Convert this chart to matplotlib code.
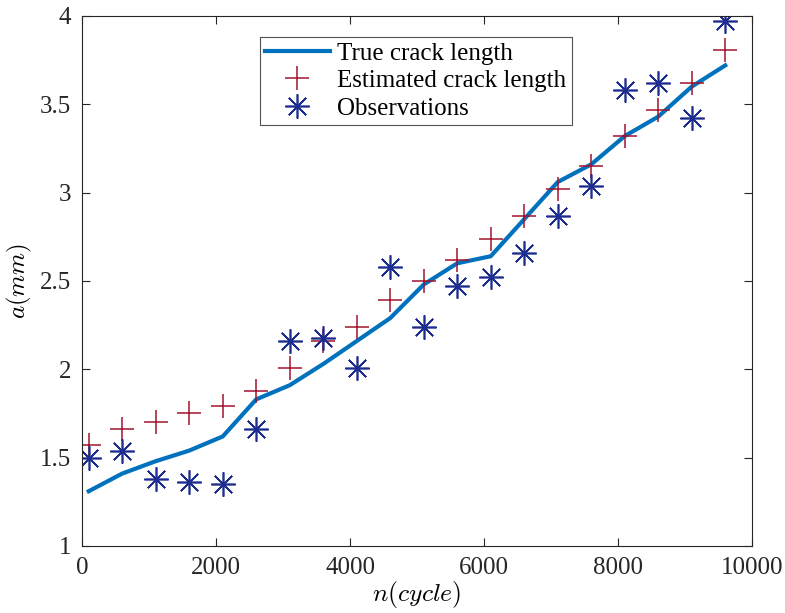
import matplotlib
matplotlib.use("Agg")
import matplotlib.pyplot as plt

plt.rcParams['font.family'] = ['Liberation Serif', 'DejaVu Serif']
plt.rcParams['mathtext.fontset'] = 'cm'

cycles = [100, 600, 1100, 1600, 2100, 2600, 3100, 3600, 4100, 4600,
          5100, 5600, 6100, 6600, 7100, 7600, 8100, 8600, 9100, 9600]
true_len = [1.31, 1.41, 1.48, 1.54, 1.62, 1.83, 1.91, 2.03, 2.16, 2.29,
            2.48, 2.60, 2.64, 2.85, 3.06, 3.16, 3.32, 3.43, 3.60, 3.72]
est_len = [1.57, 1.66, 1.70, 1.75, 1.79, 1.88, 2.01, 2.16, 2.24, 2.39,
           2.50, 2.62, 2.74, 2.87, 3.02, 3.15, 3.32, 3.47, 3.62, 3.81]
obs_len = [1.50, 1.54, 1.38, 1.36, 1.35, 1.66, 2.16, 2.18, 2.01, 2.58,
           2.24, 2.47, 2.52, 2.66, 2.87, 3.04, 3.58, 3.62, 3.42, 3.97]
x_ticks = [0, 2000, 4000, 6000, 8000, 10000]
y_ticks = [1, 1.5, 2, 2.5, 3, 3.5, 4]
y_tick_labels = ['1', '1.5', '2', '2.5', '3', '3.5', '4']

fig = plt.figure(figsize=(7.85, 6.13), dpi=100)
ax = fig.add_axes([0.1045, 0.1093, 0.8535, 0.8647])

ax.plot(cycles, true_len, color='#0072BD', lw=3, label='True crack length')
ax.plot(cycles, est_len, ls='none', marker='+', ms=17.5, mew=1.1,
        color='#A2142F', label='Estimated crack length')
ax.plot(cycles, obs_len, ls='none', marker=(8, 2, 0), ms=17.5, mew=1.2,
        color='#1C2D8F', label='Observations')

ax.set_xlim(0, 10000)
ax.set_ylim(1, 4)
ax.set_xticks(x_ticks)
ax.set_yticks(y_ticks)
ax.set_yticklabels(y_tick_labels)
ax.tick_params(direction='in', top=True, right=True, labelsize=18,
               length=6, width=0.8, colors='#262626')
ax.tick_params(axis='x', pad=8)
ax.tick_params(axis='y', pad=8)
for s in ax.spines.values():
    s.set_linewidth(0.8)
    s.set_color('#262626')

ax.set_xlabel(r'$n(cycle)$', fontsize=18.5, labelpad=0)
ax.set_ylabel(r'$a(mm)$', fontsize=18, labelpad=4)

leg = ax.legend(loc='upper center', bbox_to_anchor=(0.498, 0.96), fontsize=18,
                frameon=True, fancybox=False, edgecolor='#262626',
                handlelength=2.6, handletextpad=0.3, labelspacing=0.2,
                borderpad=0.2, borderaxespad=0, markerscale=1.0)
leg.get_frame().set_linewidth(0.8)

fig.savefig('out.png', dpi=100)
